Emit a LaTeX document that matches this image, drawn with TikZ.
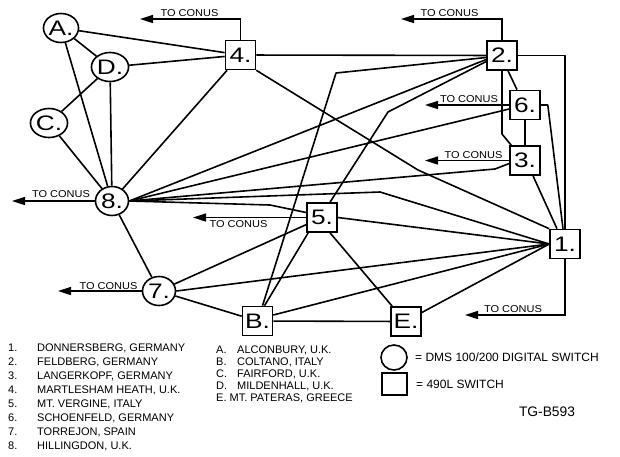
\documentclass[tikz,border=0pt]{standalone}
\usepackage{fontspec}
\setmainfont{Liberation Sans}
\newfontfamily\lblfont[FakeStretch=1.25]{Liberation Sans}
\newfontfamily\widefont[FakeStretch=1.1]{Liberation Sans}
\usetikzlibrary{shapes.geometric,arrows.meta,calc}

\begin{document}
\begin{tikzpicture}[x=1pt,y=-1pt,
  wire/.style={line width=1.6pt, line join=round},
  conus/.style={line width=1.6pt, -{Triangle[length=13pt,width=8pt]}},
  dms/.style={draw, line width=1.6pt, ellipse, minimum width=33pt, minimum height=29pt,
    inner sep=0pt, font=\lblfont\fontsize{21}{21}\selectfont},
  sw490/.style={draw, line width=1.6pt, rectangle, minimum width=30pt, minimum height=29pt,
    inner sep=0pt, font=\lblfont\fontsize{21}{21}\selectfont},
  conustxt/.style={font=\widefont\fontsize{10}{10}\selectfont, inner sep=0pt},
  site/.style={font=\fontsize{11}{11}\selectfont, anchor=base west, inner sep=0pt},
  keytxt/.style={font=\fontsize{12}{12}\selectfont, anchor=base west, inner sep=0pt}
]
\fill[white] (0,0) rectangle (620,456);
\useasboundingbox (0,0) rectangle (620,456);

% DMS 100/200 digital switches
\node[dms] (nA) at (61,28) {A.};
\node[dms] (nD) at (110,67) {D.};
\node[dms] (nC) at (49,123) {C.};
\node[dms] (n8) at (112,201) {8.};
\node[dms] (n7) at (159,291) {7.};

% 490L switches
\node[sw490] (n4) at (240.5,55) {4.};
\node[sw490] (n2) at (502,55.5) {2.};
\node[sw490] (n6) at (525,105) {6.};
\node[sw490] (n3) at (525,160.5) {3.};
\node[sw490] (n5) at (322,217.5) {5.};
\node[sw490] (n1) at (565,244) {1.};
\node[sw490] (nB) at (257.5,321) {B.};
\node[sw490] (nE) at (406,321.5) {E.};

% trunks
\draw[wire] (nA) -- (n4);
\draw[wire] (nA) -- (nD);
\draw[wire] (nA) -- (n8);
\draw[wire] (nD) -- (n4);
\draw[wire] (nD) -- (nC);
\draw[wire] (nD) -- (n8);
\draw[wire] (nC) -- (n8);
\draw[wire] (n4) -- (n8);
\draw[wire] (n4) -- (n2);
\draw[wire] (n4.south east) -- (418,170) -- (n1.north west);
\draw[wire] (n2.east) -| (n1.north);
\draw[wire] ($(n2.south)+(6,0)$) -- ($(n6.north)+(-8,0)$);
\draw[wire] (n2.south) -- (502,134) -- ($(n3.north west)+(2,0)$);
\draw[wire] (n6) -- (n3);
\draw[wire] (n6.east) -- ++(7,0) -- ($(n1.north)+(-2,0)$);
\draw[wire] ($(n3.south)+(8,0)$) -- ($(n1.north)+(-8,0)$);
\draw[wire] ($(n2.west)+(0,4)$) -- (n8.east);
\draw[wire] ($(n2.west)+(0,2)$) -- (336,73) -- ($(nB.north)+(5,0)$);
\draw[wire] ($(n2.west)+(0,6)$) -- (388,112) -- ($(n5.north)+(8,0)$);
\draw[wire] ($(n6.west)+(0,4)$) -- (n8.east);
\draw[wire] ($(n3.west)+(0,3)$) -- (495,169) -- (n8.east);
\draw[wire] (n8.east) -- (380,192) -- (n1.west);
\draw[wire] (n8.east) -- (270,205) -- ($(n5.west)+(0,-5)$);
\draw[wire] (n5.east) -- (n1.west);
\draw[wire] ($(n5.south)+(8,0)$) -- ($(nE.north west)+(2,0)$);
\draw[wire] ($(n5.south west)+(2,0)$) -- ($(nB.north)+(7,0)$);
\draw[wire] (n7) -- (n8);
\draw[wire] (n7) -- (n5);
\draw[wire] (n7.east) -- (n1.west);
\draw[wire] (n7) -- (nB);
\draw[wire] ($(nB.east)+(0,-6)$) -- (n1.west);
\draw[wire] (nB) -- (nE);
\draw[wire] ($(nE.east)+(0,-9)$) -- (n1.west);

% links to CONUS
\coordinate (c4) at (140,19);
\coordinate (c2) at (401,19);
\coordinate (c6) at (425,105);
\coordinate (c3) at (425,160.5);
\coordinate (c8) at (12,201);
\coordinate (c5) at (193,217.5);
\coordinate (c7) at (58,291);
\coordinate (c1) at (465,315);
\draw[conus] (n4.north) |- (c4);
\draw[conus] (n2.north) |- (c2);
\draw[conus] (n6.west) -- (c6);
\draw[conus] (n3.west) -- (c3);
\draw[conus] (n8.west) -- (c8);
\draw[conus] (n5.west) -- (c5);
\draw[conus] (n7.west) -- (c7);
\draw[conus] (n1.south) |- (c1);
\node[conustxt] (t4) at (189.5,13.5) {TO CONUS};
\node[conustxt] (t2) at (449.5,13.5) {TO CONUS};
\node[conustxt] (t6) at (469,99.5) {TO CONUS};
\node[conustxt] (t3) at (473.5,155) {TO CONUS};
\node[conustxt] (t8) at (61,194) {TO CONUS};
\node[conustxt] (t5) at (238.5,223.7) {TO CONUS};
\node[conustxt] (t7) at (108.5,286) {TO CONUS};
\node[conustxt] (t1) at (513,309.5) {TO CONUS};

% site list
\node[site] (k1) at (8,351.5) {1.};
\node[site] (s1) at (37,351.5) {DONNERSBERG, GERMANY};
\node[site] (k2) at (8,365.5) {2.};
\node[site] (s2) at (37,365.5) {FELDBERG, GERMANY};
\node[site] (k3) at (8,379.6) {3.};
\node[site] (s3) at (37,379.6) {LANGERKOPF, GERMANY};
\node[site] (k4) at (8,393.6) {4.};
\node[site] (s4) at (37,393.6) {MARTLESHAM HEATH, U.K.};
\node[site] (k5) at (8,407.7) {5.};
\node[site] (s5) at (37,407.7) {MT. VERGINE, ITALY};
\node[site] (k6) at (8,421.7) {6.};
\node[site] (s6) at (37,421.7) {SCHOENFELD, GERMANY};
\node[site] (k7) at (8,435.7) {7.};
\node[site] (s7) at (37,435.7) {TORREJON, SPAIN};
\node[site] (k8) at (8,449.8) {8.};
\node[site] (s8) at (37,449.8) {HILLINGDON, U.K.};

\node[site] (kA) at (216,353.7) {A.};
\node[site] (sA) at (237,353.7) {ALCONBURY, U.K.};
\node[site] (kB) at (216,365.6) {B.};
\node[site] (sB) at (237,365.6) {COLTANO, ITALY};
\node[site] (kC) at (216,377.5) {C.};
\node[site] (sC) at (237,377.5) {FAIRFORD, U.K.};
\node[site] (kD) at (216,389.4) {D.};
\node[site] (sD) at (237,389.4) {MILDENHALL, U.K.};
\node[site] (sE) at (216,401.3) {E. MT. PATERAS, GREECE};

% symbol key
\node[draw, line width=1.6pt, ellipse, minimum width=26pt, minimum height=25pt, inner sep=0pt] (kc) at (394,357.5) {};
\node[draw, line width=1.6pt, rectangle, minimum width=25pt, minimum height=22pt, inner sep=0pt] (ks) at (394.5,384) {};
\node[keytxt] (kct) at (415,361.3) {= DMS 100/200 DIGITAL SWITCH};
\node[keytxt] (kst) at (416,388.3) {= 490L SWITCH};
\node[font=\fontsize{13.8}{14}\selectfont, inner sep=0pt] (tg) at (547,412) {TG-B593};
\end{tikzpicture}
\end{document}
